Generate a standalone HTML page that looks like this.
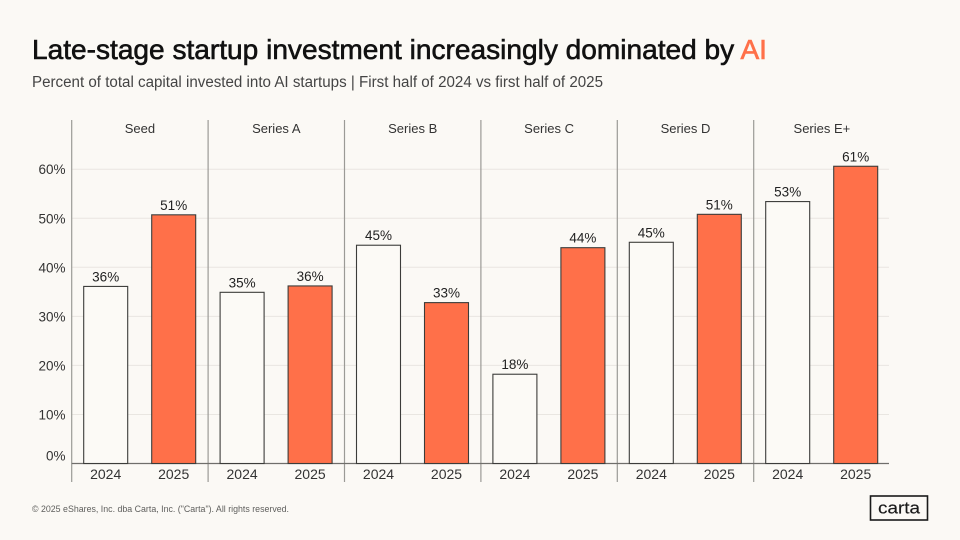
<!DOCTYPE html>
<html lang="en">
<head>
<meta charset="utf-8">
<title>Late-stage startup investment</title>
<style>
html,body{margin:0;padding:0;background:#fbf9f5;}
svg{display:block;font-family:"Liberation Sans",sans-serif;}
</style>
</head>
<body>
<svg id="chart" width="960" height="540" viewBox="0 0 960 540" xmlns="http://www.w3.org/2000/svg">
  <rect x="0" y="0" width="960" height="540" fill="#fbf9f5"/>
  <text x="32" y="59" font-size="28" fill="#111111" stroke="#111111" stroke-width="0.6" textLength="735" lengthAdjust="spacingAndGlyphs">Late-stage startup investment increasingly dominated by <tspan fill="#ff7049" stroke="#ff7049">AI</tspan></text>
  <text x="32" y="87" font-size="15.5" fill="#444444" textLength="571" lengthAdjust="spacingAndGlyphs">Percent of total capital invested into AI startups | First half of 2024 vs first half of 2025</text>
  <g id="grid"></g>
  <g id="separators"></g>
  <g id="bars"></g>
  <g id="labels"></g>
  <text x="32" y="512" font-size="9" fill="#5f5f5d" textLength="257" lengthAdjust="spacingAndGlyphs">© 2025 eShares, Inc. dba Carta, Inc. ("Carta"). All rights reserved.</text>
  <g>
    <rect x="870.5" y="496" width="57" height="24" fill="none" stroke="#1a1a1a" stroke-width="1.6"/>
    <text x="899" y="513.5" font-size="17" text-anchor="middle" fill="#1a1a1a" stroke="#1a1a1a" stroke-width="0.15" textLength="42" lengthAdjust="spacingAndGlyphs">carta</text>
  </g>
</svg>
<script>
const categories = ["Seed", "Series A", "Series B", "Series C", "Series D", "Series E+"];
const years = ["2024", "2025"];
const values2024 = [36.1, 34.9, 44.5, 18.2, 45.1, 53.4];
const values2025 = [50.7, 36.2, 32.8, 44.0, 50.8, 60.6];
const printed2024 = ["36%", "35%", "45%", "18%", "45%", "53%"];
const printed2025 = ["51%", "36%", "33%", "44%", "51%", "61%"];
const yTicks = [0, 10, 20, 30, 40, 50, 60];
const yTickLabels = ["0%", "10%", "20%", "30%", "40%", "50%", "60%"];

const NS = "http://www.w3.org/2000/svg";
const plotLeft = 71.7, plotRight = 889, baseY = 463.5, pxPerUnit = 4.905;
const groupW = 136.4;
const barW = 44, barOffset = [12, 80];

function yScale(v) { return baseY - v * pxPerUnit; }
function groupX(i) { return plotLeft + i * groupW; }
function make(parent, tag, attrs, text) {
  const el = document.createElementNS(NS, tag);
  for (const k in attrs) el.setAttribute(k, attrs[k]);
  if (text !== undefined) el.textContent = text;
  parent.appendChild(el);
  return el;
}
const gridG = document.getElementById("grid");
const sepG = document.getElementById("separators");
const barsG = document.getElementById("bars");
const labelsG = document.getElementById("labels");

yTicks.forEach(function (t, i) {
  if (t !== 0) {
    const line = make(gridG, "line", {x1: plotLeft, x2: plotRight, y1: yScale(t), y2: yScale(t), stroke: "#e9e6e1", "stroke-width": 1});
    
    
  }
  const tickY = t === 0 ? yScale(t) - 3 : yScale(t) + 5;
  const lab = make(labelsG, "text", {x: 65.5, y: tickY, "text-anchor": "end", "font-size": 13.5, fill: "#333333"}, yTickLabels[i]);
  
  
});

categories.forEach(function (cat, i) {
  const x0 = groupX(i);
  const sep = make(sepG, "line", {x1: x0, x2: x0, y1: 120, y2: 482, stroke: "#9b9a96", "stroke-width": 1.2});
  
  

  const head = make(labelsG, "text", {x: x0 + groupW / 2, y: 133, "text-anchor": "middle", "font-size": 13, fill: "#333333"}, cat);
  
  

  [values2024[i], values2025[i]].forEach(function (v, s) {
    const x = x0 + barOffset[s];
    const bar = make(barsG, "rect", {
      x: x, y: yScale(v), width: barW, height: baseY - yScale(v),
      fill: s === 0 ? "#fcfaf6" : "#ff7049",
      stroke: "#3c3c3a", "stroke-width": 1.1
    });
    
    

    const val = make(labelsG, "text", {x: x + barW / 2, y: yScale(v) - 5, "text-anchor": "middle", "font-size": 13.5, fill: "#222222"}, (s === 0 ? printed2024 : printed2025)[i]);
    
    

    const yr = make(labelsG, "text", {x: x + barW / 2, y: 479, "text-anchor": "middle", "font-size": 14, fill: "#333333"}, years[s]);
    
    
  });
});

const axis = make(sepG, "line", {x1: plotLeft, x2: plotRight, y1: baseY, y2: baseY, stroke: "#6f6e6b", "stroke-width": 1.3});


</script>
</body>
</html>
